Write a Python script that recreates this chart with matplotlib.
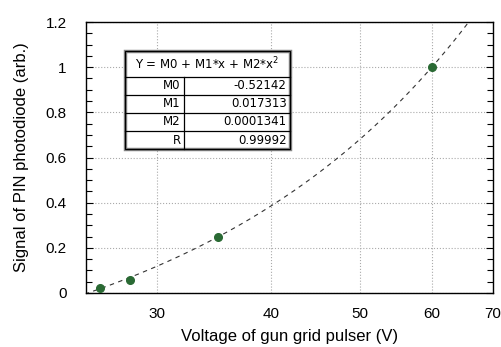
import numpy as np
import matplotlib
matplotlib.use('Agg')
from matplotlib import pyplot as plt
from matplotlib.patches import Rectangle
from matplotlib.ticker import FixedLocator, NullLocator, MultipleLocator

plt.rcParams['font.family'] = ['Liberation Sans', 'DejaVu Sans']

# measured points
voltage = [26, 28, 35, 60]
signal = [0.022, 0.058, 0.248, 1.0]

# quadratic fit coefficients
m0 = -0.52142
m1 = 0.017313
m2 = 0.0001341
r_val = 0.99992

x_ticks = [30, 40, 50, 60, 70]
y_ticks = [0, 0.2, 0.4, 0.6, 0.8, 1.0, 1.2]
y_tick_labels = ['0', '0.2', '0.4', '0.6', '0.8', '1', '1.2']

fig = plt.figure(figsize=(5.02, 3.47), dpi=100)
ax = fig.add_axes([86 / 502, 1 - 293 / 347, 407 / 502, 271 / 347])

# fit curve
xf = np.linspace(25, 70, 400)
yf = m0 + m1 * xf + m2 * xf ** 2
ax.plot(xf, yf, linestyle=(0, (4, 4)), color='#333333', lw=0.8, zorder=3)

ax.plot(voltage, signal, linestyle='', marker='o', ms=5.5, color='#2a6a34',
        zorder=4)

ax.set_xscale('log')
ax.set_xlim(25.08, 70)
ax.set_ylim(0, 1.2)

ax.xaxis.set_major_locator(FixedLocator(x_ticks))
ax.xaxis.set_minor_locator(NullLocator())
ax.set_xticklabels([str(t) for t in x_ticks])
ax.set_yticks(y_ticks)
ax.set_yticklabels(y_tick_labels)
ax.yaxis.set_minor_locator(MultipleLocator(0.05))

ax.tick_params(axis='x', which='both', length=0, pad=10, labelsize=11)
ax.tick_params(axis='y', which='major', direction='in', length=5, width=0.8,
               left=True, right=True, pad=14, labelsize=11)
ax.tick_params(axis='y', which='minor', direction='in', length=4, width=0.8,
               left=True, right=True)

ax.grid(True, which='major', linestyle=':', color='#aaaaaa', lw=0.8)
for sp in ax.spines.values():
    sp.set_linewidth(1.0)

ax.set_xlabel('Voltage of gun grid pulser (V)', fontsize=12, labelpad=6)
ax.set_ylabel('Signal of PIN photodiode (arb.)', fontsize=12, labelpad=12)

# fit parameter table, drawn in axes fraction coordinates
tl, tr, tc = 0.0958, 0.501, 0.241
rows_y = [0.893, 0.797, 0.731, 0.664, 0.598, 0.531]
row_names = ['M0', 'M1', 'M2', 'R']
row_vals = ['-0.52142', '0.017313', '0.0001341', '0.99992']
tfont = dict(family='DejaVu Sans', fontsize=8.5)

ax.add_patch(Rectangle((tl, rows_y[-1]), tr - tl, rows_y[0] - rows_y[-1],
                       transform=ax.transAxes, facecolor='white',
                       edgecolor='#888888', lw=2.5, zorder=5))
ax.add_patch(Rectangle((tl, rows_y[-1]), tr - tl, rows_y[0] - rows_y[-1],
                       transform=ax.transAxes, facecolor='none',
                       edgecolor='black', lw=0.9, zorder=6))
for yy in rows_y[1:-1]:
    ax.plot([tl, tr], [yy, yy], transform=ax.transAxes, color='black',
            lw=0.9, zorder=6)
ax.plot([tc, tc], [rows_y[1], rows_y[-1]], transform=ax.transAxes,
        color='black', lw=0.9, zorder=6)

ax.text((tl + tr) / 2, (rows_y[0] + rows_y[1]) / 2,
        'Y = M0 + M1*x + M2*x$^2$', transform=ax.transAxes, ha='center',
        va='center', zorder=7, **tfont)
for i in range(len(row_names)):
    yc = (rows_y[i + 1] + rows_y[i + 2]) / 2
    ax.text(tc - 0.008, yc, row_names[i], transform=ax.transAxes,
            ha='right', va='center', zorder=7, **tfont)
    ax.text(tr - 0.008, yc, row_vals[i], transform=ax.transAxes,
            ha='right', va='center', zorder=7, **tfont)

fig.savefig('out.png', dpi=100)
